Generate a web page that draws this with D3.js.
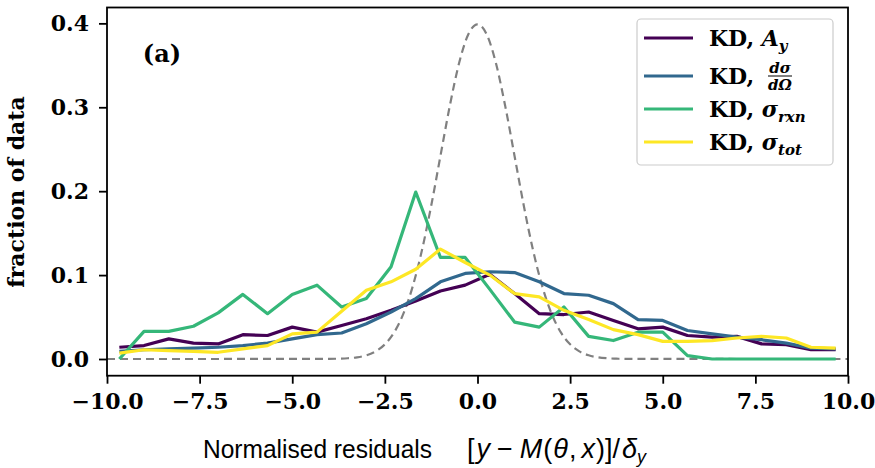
<!DOCTYPE html>
<html>
<head>
<meta charset="utf-8">
<script src="https://cdn.jsdelivr.net/npm/d3@7"></script>
<style>
  body { margin: 0; background: #fff; }
  svg text { fill: #000; }
</style>
</head>
<body>
<svg width="875" height="468"></svg>
<script>
// bin centres of the residual histograms (30 bins over [-10, 10])
const binCentres = [-9.667, -9.0, -8.333, -7.667, -7.0, -6.333, -5.667, -5.0, -4.333, -3.667,
  -3.0, -2.333, -1.667, -1.0, -0.333, 0.333, 1.0, 1.667, 2.333, 3.0,
  3.667, 4.333, 5.0, 5.667, 6.333, 7.0, 7.667, 8.333, 9.0, 9.667];

const kdAy = [0.014, 0.016, 0.024, 0.019, 0.018, 0.029, 0.028, 0.038, 0.032, 0.040,
  0.048, 0.058, 0.069, 0.081, 0.088, 0.101, 0.078, 0.054, 0.053, 0.056,
  0.046, 0.036, 0.038, 0.028, 0.026, 0.027, 0.018, 0.017, 0.011, 0.011];
const kdDsdo = [0.009, 0.011, 0.012, 0.013, 0.014, 0.016, 0.019, 0.024, 0.029, 0.031,
  0.042, 0.056, 0.072, 0.092, 0.102, 0.104, 0.103, 0.092, 0.078, 0.076,
  0.066, 0.047, 0.046, 0.034, 0.030, 0.026, 0.023, 0.019, 0.013, 0.012];
const kdRxn = [0.000, 0.033, 0.033, 0.039, 0.055, 0.077, 0.054, 0.077, 0.088, 0.062,
  0.072, 0.110, 0.199, 0.121, 0.121, 0.083, 0.044, 0.038, 0.062, 0.027,
  0.022, 0.032, 0.032, 0.004, 0.000, 0.000, 0.000, 0.000, 0.000, 0.000];
const kdTot = [0.007, 0.011, 0.010, 0.009, 0.008, 0.012, 0.016, 0.030, 0.032, 0.057,
  0.082, 0.092, 0.107, 0.131, 0.115, 0.100, 0.078, 0.074, 0.058, 0.047,
  0.035, 0.029, 0.021, 0.021, 0.022, 0.025, 0.027, 0.025, 0.014, 0.013];

// reference unit gaussian (dashed)
const gaussX = [-10, -4, -3.75, -3.5, -3.25, -3, -2.75, -2.5, -2.25, -2, -1.75, -1.5, -1.25, -1, -0.75, -0.5, -0.25,
  0, 0.25, 0.5, 0.75, 1, 1.25, 1.5, 1.75, 2, 2.25, 2.5, 2.75, 3, 3.25, 3.5, 3.75, 4, 10];
const gaussY = [0, 0.0001, 0.0004, 0.0009, 0.0020, 0.0044, 0.0091, 0.0175, 0.0317, 0.0540, 0.0863, 0.1295, 0.1826, 0.2420, 0.3011, 0.3521, 0.3867,
  0.3989, 0.3867, 0.3521, 0.3011, 0.2420, 0.1826, 0.1295, 0.0863, 0.0540, 0.0317, 0.0175, 0.0091, 0.0044, 0.0020, 0.0009, 0.0004, 0.0001, 0];

const xTicks = [-10, -7.5, -5, -2.5, 0, 2.5, 5, 7.5, 10];
const yTicks = [0, 0.1, 0.2, 0.3, 0.4];

const seriesColors = ["#440154", "#31688e", "#35b779", "#fde725"];
const seriesData = [kdAy, kdDsdo, kdRxn, kdTot];

const svg = d3.select("svg");
const serif = "'DejaVu Serif', serif";
const sans = "'Liberation Sans', sans-serif";

const x = d3.scaleLinear().domain([-10, 10]).range([107, 848]);
const y = d3.scaleLinear().domain([-0.0199, 0.4189]).range([375.7, 7.5]);

// gaussian
const gLine = d3.line().x(d => x(d[0])).y(d => y(d[1])).curve(d3.curveMonotoneX);
svg.append("path")
  .datum(gaussX.map((v, i) => [v, gaussY[i]]))
  .attr("fill", "none")
  .attr("stroke", "#808080")
  .attr("stroke-width", 2.2)
  .attr("stroke-dasharray", "8,5")
  .attr("d", gLine);

// histogram lines
const line = d3.line().x(d => x(d[0])).y(d => y(d[1]));
seriesData.forEach((vals, i) => {
  svg.append("path")
    .datum(binCentres.map((c, j) => [c, vals[j]]))
    .attr("fill", "none")
    .attr("stroke", seriesColors[i])
    .attr("stroke-width", 3.2)
    .attr("stroke-linejoin", "round")
    .attr("d", line);
});

// frame
svg.append("rect")
  .attr("x", 107).attr("y", 7.5)
  .attr("width", 741).attr("height", 368.2)
  .attr("fill", "none").attr("stroke", "#000").attr("stroke-width", 1.8);

// axes
const xAxis = svg.append("g")
  .attr("transform", "translate(0,375.7)")
  .call(d3.axisBottom(x).tickValues(xTicks).tickFormat(d3.format(".1f")).tickSize(8).tickPadding(10));
const yAxis = svg.append("g")
  .attr("transform", "translate(107,0)")
  .call(d3.axisLeft(y).tickValues(yTicks).tickFormat(d3.format(".1f")).tickSize(8).tickPadding(10));

[xAxis, yAxis].forEach(a => {
  a.select(".domain").remove();
  a.selectAll(".tick line").attr("stroke", "#000").attr("stroke-width", 1.8);
  a.selectAll(".tick text")
    .style("font-family", serif)
    .style("font-weight", "bold")
    .style("font-size", "22px");
});

// x label: words, then the maths part
svg.append("text")
  .attr("x", 203).attr("y", 458)
  .attr("textLength", 229).attr("lengthAdjust", "spacingAndGlyphs")
  .style("font-family", sans)
  .style("font-size", "25px")
  .text("Normalised residuals");

const xm = svg.append("text")
  .attr("x", 467).attr("y", 458)
  .style("font-family", sans)
  .style("font-size", "27px");
const up = (s, dx) => xm.append("tspan").attr("dx", dx || 0).text(s);
const it = (s, dx) => xm.append("tspan").attr("dx", dx || 0).style("font-style", "italic").text(s);
up("[");
it("y", 2);
up("−", 7);
it("M", 7);
up("(", 1);
it("θ", 1);
up(",", 1);
it("x", 5);
up(")]/", 1);
it("δ", 2);
xm.append("tspan").attr("dy", 5).style("font-style", "italic").style("font-size", "18px").text("y");

// y label
svg.append("text")
  .attr("transform", "translate(24,192) rotate(-90)")
  .attr("text-anchor", "middle")
  .style("font-family", serif)
  .style("font-weight", "bold")
  .style("font-size", "22px")
  .text("fraction of data");

// panel tag
svg.append("text")
  .attr("x", 162).attr("y", 62)
  .attr("text-anchor", "middle")
  .style("font-family", serif)
  .style("font-weight", "bold")
  .style("font-size", "24px")
  .text("(a)");

// legend
const legend = svg.append("g");
legend.append("rect")
  .attr("x", 637).attr("y", 19)
  .attr("width", 196).attr("height", 146)
  .attr("rx", 4)
  .attr("fill", "#fff").attr("fill-opacity", 0.8)
  .attr("stroke", "#cccccc").attr("stroke-width", 1.2);

const legendRows = [38, 76, 109, 142];
legendRows.forEach((ly, i) => {
  legend.append("line")
    .attr("x1", 644).attr("x2", 693)
    .attr("y1", ly).attr("y2", ly)
    .attr("stroke", seriesColors[i]).attr("stroke-width", 3.2);
});

function kdText(ly) {
  return legend.append("text")
    .attr("x", 709).attr("y", ly + 8)
    .style("font-family", serif)
    .style("font-weight", "bold")
    .style("font-size", "22px");
}
const bi = t => t.style("font-style", "italic");

let t0 = kdText(legendRows[0]);
t0.append("tspan").text("KD, ");
bi(t0.append("tspan")).text("A");
bi(t0.append("tspan")).attr("dy", 5).style("font-size", "15px").text("y");

let t1 = kdText(legendRows[1]);
t1.append("tspan").text("KD, ");
// fraction d sigma / d Omega
const fx = 780;
legend.append("text").attr("x", fx).attr("y", legendRows[1] - 3)
  .attr("text-anchor", "middle")
  .style("font-family", serif).style("font-weight", "bold").style("font-style", "italic")
  .style("font-size", "15px").text("dσ");
legend.append("line").attr("x1", fx - 12).attr("x2", fx + 12)
  .attr("y1", legendRows[1]).attr("y2", legendRows[1])
  .attr("stroke", "#000").attr("stroke-width", 1);
legend.append("text").attr("x", fx).attr("y", legendRows[1] + 14)
  .attr("text-anchor", "middle")
  .style("font-family", serif).style("font-weight", "bold").style("font-style", "italic")
  .style("font-size", "15px").text("dΩ");

let t2 = kdText(legendRows[2]);
t2.append("tspan").text("KD, ");
bi(t2.append("tspan")).text("σ");
bi(t2.append("tspan")).attr("dy", 5).style("font-size", "15px").text("rxn");

let t3 = kdText(legendRows[3]);
t3.append("tspan").text("KD, ");
bi(t3.append("tspan")).text("σ");
bi(t3.append("tspan")).attr("dy", 5).style("font-size", "15px").text("tot");
</script>
</body>
</html>
